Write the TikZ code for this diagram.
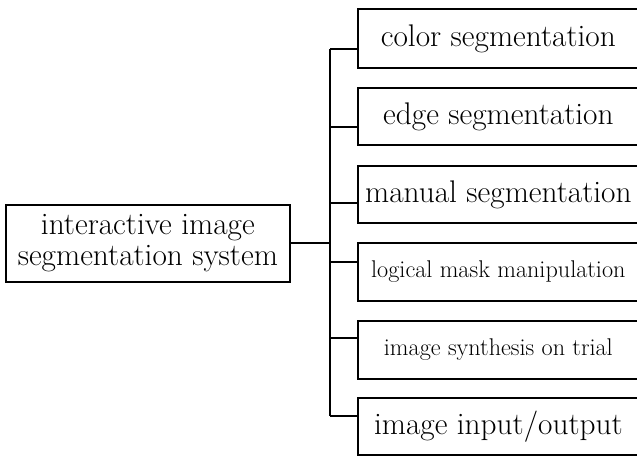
\documentclass[tikz,border=0pt]{standalone}
\begin{document}
\begin{tikzpicture}[x=1pt,y=-1pt,
  line width=1.7pt,
  rbox/.style={draw, rectangle, anchor=north west, minimum width=281pt, minimum height=58pt,
    inner sep=0pt, font=\fontsize{31.3}{32}\selectfont},
  sbox/.style={rbox, font=\fontsize{24.2}{26}\selectfont},
  lbox/.style={draw, rectangle, anchor=north west, minimum width=284pt, minimum height=77pt,
    inner sep=0pt, align=center, font=\fontsize{31.3}{31}\selectfont},
  wire/.style={draw, line width=1.7pt}]
\useasboundingbox (0,0) rectangle (637,456);
\clip (0,0) rectangle (637,456);
\fill[white] (0,0) rectangle (637,456);
\node[lbox] (root) at (5,204) {interactive image\\segmentation system};
\node[rbox, minimum height=59pt] (b1) at (357,8) {color segmentation};
\node[rbox, minimum height=57pt] (b2) at (357,87) {edge segmentation};
\node[rbox, minimum height=57pt] (b3) at (357,165) {manual segmentation};
\node[sbox] (b4) at (357,242) {logical mask manipulation};
\node[sbox] (b5) at (357,320) {image synthesis on trial};
\node[rbox, minimum height=57pt] (b6) at (357,397) {image input/output};
\coordinate (j1) at (330,49);
\coordinate (j2) at (330,127);
\coordinate (j3) at (330,203);
\coordinate (j4) at (330,262);
\coordinate (j5) at (330,338);
\coordinate (j6) at (330,416);
\coordinate (jr) at (330,243);
\draw[wire] (j1) -- (j6);
\draw[wire] (j1) -- (j1 -| b1.west);
\draw[wire] (j2) -- (j2 -| b2.west);
\draw[wire] (j3) -- (j3 -| b3.west);
\draw[wire] (j4) -- (j4 -| b4.west);
\draw[wire] (j5) -- (j5 -| b5.west);
\draw[wire] (j6) -- (j6 -| b6.west);
\draw[wire] (root.east |- jr) -- (jr);
\end{tikzpicture}
\end{document}
